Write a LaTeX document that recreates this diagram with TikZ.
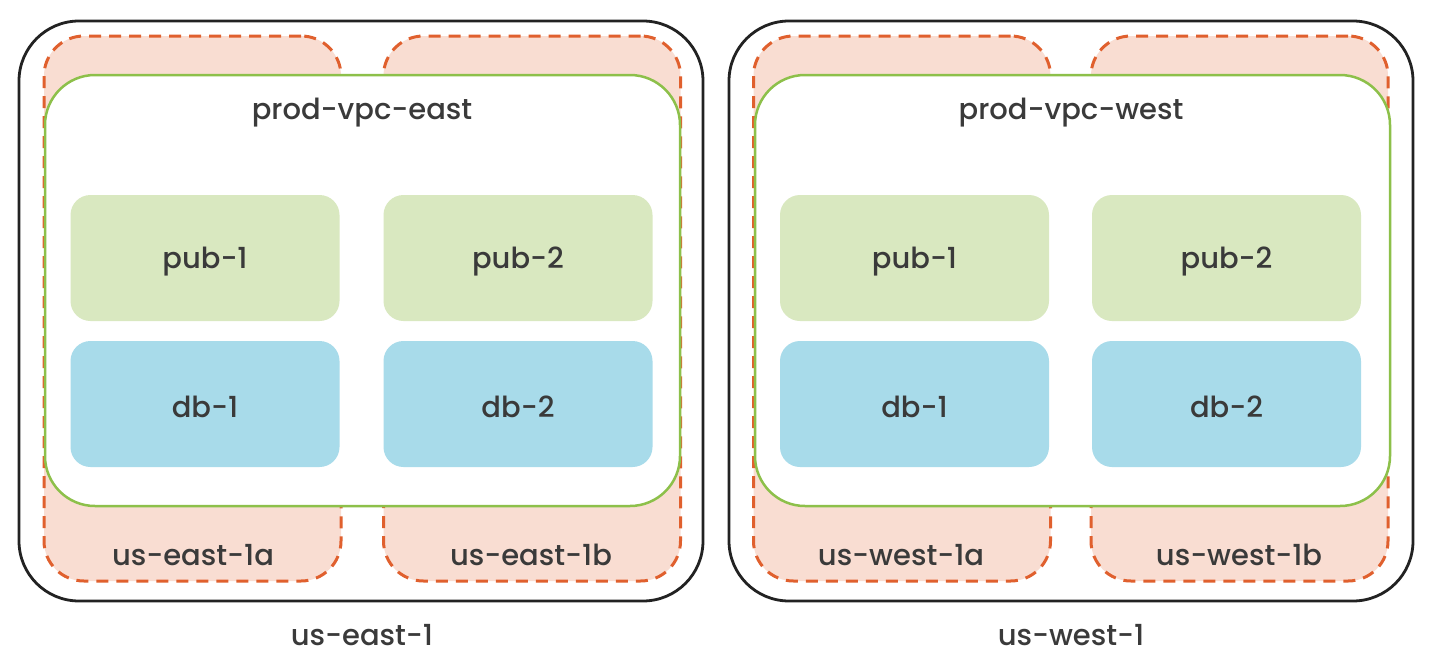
\documentclass[tikz,border=0pt]{standalone}
\usepackage{fontspec}
\setmainfont{Poppins}[UprightFont=*-Medium]
\definecolor{txt}{HTML}{3A3A3A}
\definecolor{regionline}{HTML}{222222}
\definecolor{azline}{HTML}{E0602E}
\definecolor{azfill}{HTML}{F9DDD2}
\definecolor{vpcline}{HTML}{8DC04A}
\definecolor{pubfill}{HTML}{D9E8C0}
\definecolor{dbfill}{HTML}{A8DBEA}
\tikzset{
  region/.style={draw=regionline, line width=2.8pt, fill=white, rounded corners=60pt,
    minimum width=684pt, minimum height=580pt, inner sep=0pt},
  azbox/.style={draw=azline, fill=azfill, line width=3pt, dash pattern=on 12pt off 8pt,
    rounded corners=40pt, minimum width=297pt, minimum height=545pt, inner sep=0pt},
  vpcbox/.style={draw=vpcline, line width=2.5pt, fill=white, rounded corners=50pt,
    minimum width=635pt, minimum height=431pt, inner sep=0pt},
  pubbox/.style={fill=pubfill, rounded corners=20pt, minimum width=269pt, minimum height=126pt, inner sep=0pt},
  dbbox/.style={fill=dbfill, rounded corners=20pt, minimum width=269pt, minimum height=126pt, inner sep=0pt},
  lbl/.style={text=txt, font=\fontsize{29}{33}\selectfont, inner sep=0pt},
}
\begin{document}
\begin{tikzpicture}[x=1pt, y=-1pt]
\useasboundingbox[fill=white] (0,0) rectangle (1429,659);
% ---------- east ----------
\node[region] (eastreg) at (361,311) {};
\node[azbox] (eastaza) at (192.5,308.5) {};
\node[azbox] (eastazb) at (532,308.5) {};
\node[vpcbox] (eastvpc) at (362.5,290.5) {};
\node[pubbox] (eastpub1) at (205,258) {};
\node[pubbox] (eastpub2) at (518,258) {};
\node[dbbox] (eastdb1) at (205,404) {};
\node[dbbox] (eastdb2) at (518,404) {};
\node[lbl] (eastvpclbl) at (362,113) {prod-vpc-east};
\node[lbl] (eastpub1lbl) at (205,262) {pub-1};
\node[lbl] (eastpub2lbl) at (518,262) {pub-2};
\node[lbl] (eastdb1lbl) at (205,407) {db-1};
\node[lbl] (eastdb2lbl) at (518,407) {db-2};
\node[lbl] (eastazalbl) at (193,555) {us-east-1a};
\node[lbl] (eastazblbl) at (531,555) {us-east-1b};
\node[lbl] (eastreglbl) at (362,635) {us-east-1};
% ---------- west ----------
\node[region] (westreg) at (1071,311) {};
\node[azbox] (westaza) at (902,308.5) {};
\node[azbox] (westazb) at (1239.5,308.5) {};
\node[vpcbox] (westvpc) at (1072.5,290.5) {};
\node[pubbox] (westpub1) at (914.5,258) {};
\node[pubbox] (westpub2) at (1226.5,258) {};
\node[dbbox] (westdb1) at (914.5,404) {};
\node[dbbox] (westdb2) at (1226.5,404) {};
\node[lbl] (westvpclbl) at (1071,113) {prod-vpc-west};
\node[lbl] (westpub1lbl) at (914.5,262) {pub-1};
\node[lbl] (westpub2lbl) at (1226.5,262) {pub-2};
\node[lbl] (westdb1lbl) at (914.5,407) {db-1};
\node[lbl] (westdb2lbl) at (1226.5,407) {db-2};
\node[lbl] (westazalbl) at (901,555) {us-west-1a};
\node[lbl] (westazblbl) at (1239,555) {us-west-1b};
\node[lbl] (westreglbl) at (1071,635) {us-west-1};
\end{tikzpicture}
\end{document}
